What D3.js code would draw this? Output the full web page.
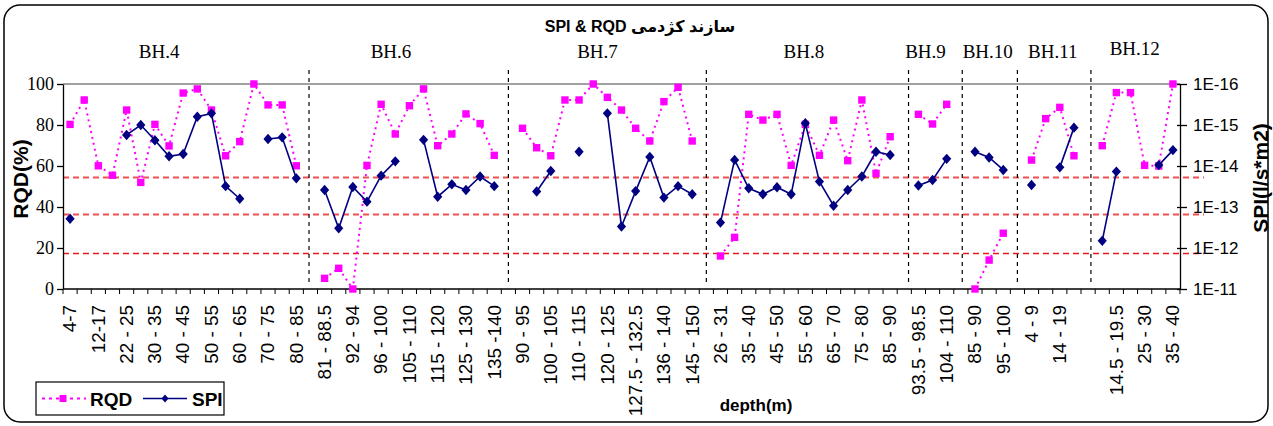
<!DOCTYPE html>
<html>
<head>
<meta charset="utf-8">
<script src="https://cdn.jsdelivr.net/npm/d3@7"></script>
<style>
  body { margin: 0; background: #fff; }
  svg { display: block; }
  .sans { font-family: 'Liberation Sans', Arial, 'DejaVu Sans', sans-serif; }
  .serif { font-family: 'Liberation Serif', 'Times New Roman', serif; }
</style>
</head>
<body>
<div id="chart"></div>
<script>
// Depth intervals along the x axis, boreholes separated by an empty slot (null).
// Excel only printed every second label, the hidden ones are left as ''.
var depthLabels = [
  '4-7', '', '12-17', '', '22 - 25', '', '30 - 35', '', '40 - 45', '', '50 - 55', '', '60 - 65', '', '70 - 75', '', '80 - 85', null,
  '81 - 88.5', '', '92 - 94', '', '96 - 100', '', '105 - 110', '', '115 - 120', '', '125 - 130', '', '135 -140', null,
  '90 - 95', '', '100 - 105', '', '110 - 115', '', '120 - 125', '', '127.5 - 132.5', '', '136 - 140', '', '145 - 150', null,
  '26 - 31', '', '35 - 40', '', '45 - 50', '', '55 - 60', '', '65 - 70', '', '75 - 80', '', '85 - 90', null,
  '93.5 - 98.5', '', '104 - 110', null,
  '85 - 90', '', '95 - 100', null,
  '4 - 9', '', '14 - 19', '', null,
  '', '14.5 - 19.5', '', '25 - 30', '', '35 - 40'
];

// RQD (%) for each slot
var rqd = [
  80.3, 92.2, 60.1, 55.5, 87.3, 52, 80.3, 69.8, 95.6, 97.6, 87.3, 65, 71.9, 100, 89.8, 89.8, 60.1, null,
  5.2, 10.1, 0, 60.3, 90.1, 75.6, 89.4, 97.6, 69.9, 75.6, 85.4, 80.7, 65.2, null,
  78.4, 68.9, 65, 92.2, 92.2, 100, 93.5, 87.3, 78.4, 72.2, 91.4, 98.4, 72.2, null,
  16.1, 25.2, 85.2, 82.4, 85.2, 60.3, 80.3, 65.2, 82.4, 62.6, 92.2, 56.4, 74.3, null,
  85.2, 80.5, 90.1, null,
  0, 14.1, 27.2, null,
  62.9, 83.1, 88.6, 65, null,
  69.9, 95.8, 95.8, 60.3, 60, 100
];

// SPI (l/s*m2) for each slot, null where not measured
var spi = [
  1.93e-13, null, null, null, 1.75e-15, 1.0e-15, 2.36e-15, 5.8e-15, 5.1e-15, 6.3e-16, 5.2e-16, 3.1e-14, 6.3e-14, null, 2.2e-15, 2.0e-15, 2.0e-14, null,
  3.85e-14, 3.3e-13, 3.25e-14, 7.4e-14, 1.72e-14, 7.7e-15, null, 2.3e-15, 5.6e-14, 2.8e-14, 3.85e-14, 1.8e-14, 3.1e-14, null,
  null, 4.2e-14, 1.32e-14, null, 4.5e-15, null, 5.2e-16, 3.0e-13, 4.1e-14, 6.0e-15, 5.9e-14, 3.1e-14, 4.9e-14, null,
  2.4e-13, 7.1e-15, 3.5e-14, 4.9e-14, 3.3e-14, 4.9e-14, 9.1e-16, 2.4e-14, 9.3e-14, 3.85e-14, 1.8e-14, 4.5e-15, 5.4e-15, null,
  3.0e-14, 2.2e-14, 6.7e-15, null,
  4.5e-15, 6.2e-15, 1.25e-14, null,
  2.9e-14, null, 1.08e-14, 1.16e-15, null,
  6.7e-13, 1.37e-14, null, null, 9.5e-15, 4.1e-15
];

var boreholes = ['BH.4', 'BH.6', 'BH.7', 'BH.8', 'BH.9', 'BH.10', 'BH.11', 'BH.12'];
var rqdTicks = [0, 20, 40, 60, 80, 100];
var spiTicks = [1e-16, 1e-15, 1e-14, 1e-13, 1e-12, 1e-11];
var spiLimits = [1.9e-14, 1.5e-13, 1.35e-12];

// layout (hand placed annotations, in slot units)
var bhLabelAt = [6.3, 22.7, 37.3, 51.9, 60.5, 64.9, 69.5, 75.3];
var dividerAt = [16.9, 31, 45, 59.3, 63.1, 67, 72.2];

var W = 1273, H = 426;
var plot = {left: 63, right: 1180, top: 84, bottom: 289};

var svg = d3.select('#chart').append('svg')
  .attr('width', W).attr('height', H);

// outer frame
svg.append('rect')
  .attr('x', 4).attr('y', 5).attr('width', 1264).attr('height', 417)
  .attr('rx', 16).attr('ry', 16)
  .attr('fill', '#fff').attr('stroke', '#000').attr('stroke-width', 1.5);

var x = d3.scaleBand().domain(d3.range(depthLabels.length)).range([plot.left, plot.right]).padding(0);
var bw = x.bandwidth();
var cx = function(i) { return plot.left + (i + 0.5) * bw; };
var yL = d3.scaleLinear().domain([0, 100]).range([plot.bottom, plot.top]);
var yR = d3.scaleLog().domain([1e-16, 1e-11]).range([plot.top, plot.bottom]);

// top line at 100
svg.append('line')
  .attr('x1', plot.left).attr('x2', plot.right)
  .attr('y1', yL(100)).attr('y2', yL(100))
  .attr('stroke', '#a0a0a0').attr('stroke-width', 2);

// threshold lines
svg.append('g').selectAll('line')
  .data(spiLimits)
  .enter().append('line')
  .attr('x1', plot.left).attr('x2', plot.right + 24)
  .attr('y1', function(d) { return Math.round(yR(d)) + 0.5; })
  .attr('y2', function(d) { return Math.round(yR(d)) + 0.5; })
  .attr('stroke', function(d, i) { return i < 2 ? '#f05050' : '#e51a1a'; })
  .attr('stroke-width', function(d, i) { return i < 2 ? 2 : 1.3; })
  .attr('stroke-dasharray', '6,4');

// borehole dividers
svg.append('g').selectAll('line')
  .data(dividerAt)
  .enter().append('line')
  .attr('x1', function(d) { return cx(d); }).attr('x2', function(d) { return cx(d); })
  .attr('y1', 70).attr('y2', 283)
  .attr('stroke', '#000').attr('stroke-width', 1.2)
  .attr('stroke-dasharray', '4,4');

// borehole names
svg.append('g').selectAll('text')
  .data(boreholes)
  .enter().append('text')
  .attr('class', 'serif')
  .attr('x', function(d, i) { return cx(bhLabelAt[i]); })
  .attr('y', function(d, i) { return i === 7 ? 55 : 58; })
  .attr('text-anchor', 'middle')
  .attr('font-size', 19)
  .text(function(d) { return d; });

// left axis
var gL = svg.append('g')
  .attr('transform', 'translate(' + plot.left + ',0)')
  .call(d3.axisLeft(yL).tickValues(rqdTicks).tickSize(6).tickSizeOuter(0).tickPadding(3));
gL.selectAll('text').attr('class', 'serif').attr('font-size', 18).attr('fill', '#000');
gL.selectAll('line, path').attr('stroke', '#000').attr('stroke-width', 1.3);

// right axis
var gR = svg.append('g')
  .attr('transform', 'translate(' + plot.right + ',0)')
  .call(d3.axisRight(yR).tickValues(spiTicks).tickSize(7).tickSizeOuter(0).tickPadding(6)
    .tickFormat(function(d) { return '1E' + Math.round(Math.log10(d)); }));
gR.selectAll('text').attr('class', 'sans').attr('font-size', 17).attr('fill', '#000');
gR.selectAll('line, path').attr('stroke', '#000').attr('stroke-width', 1.3);
gR.selectAll('.tick line').attr('x1', -3);

// bottom axis
var gB = svg.append('g');
gB.append('line')
  .attr('x1', plot.left).attr('x2', plot.right)
  .attr('y1', plot.bottom).attr('y2', plot.bottom)
  .attr('stroke', '#000').attr('stroke-width', 1.3);
gB.selectAll('line.tk')
  .data(d3.range(depthLabels.length + 1))
  .enter().append('line')
  .attr('class', 'tk')
  .attr('x1', function(i) { return plot.left + i * bw; })
  .attr('x2', function(i) { return plot.left + i * bw; })
  .attr('y1', plot.bottom).attr('y2', plot.bottom + 5)
  .attr('stroke', '#000').attr('stroke-width', 1);
gB.selectAll('text')
  .data(depthLabels.map(function(d, i) { return {label: d, i: i}; })
    .filter(function(d) { return d.label; }))
  .enter().append('text')
  .attr('class', 'sans')
  .attr('font-size', 18)
  .attr('text-anchor', 'end')
  .attr('dy', '0.35em')
  .attr('transform', function(d) { return 'translate(' + cx(d.i) + ',' + (plot.bottom + 16) + ') rotate(-90) scale(1.05,1)'; })
  .text(function(d) { return d.label; });

// RQD series
var rqdLine = d3.line()
  .defined(function(d) { return d != null; })
  .x(function(d, i) { return cx(i); })
  .y(function(d) { return yL(d); });
svg.append('path')
  .attr('d', rqdLine(rqd))
  .attr('fill', 'none')
  .attr('stroke', '#ff00ff').attr('stroke-width', 2)
  .attr('stroke-dasharray', '2,4');
svg.append('g').selectAll('rect')
  .data(rqd.map(function(d, i) { return {v: d, i: i}; }).filter(function(d) { return d.v != null; }))
  .enter().append('rect')
  .attr('x', function(d) { return cx(d.i) - 3.7; })
  .attr('y', function(d) { return yL(d.v) - 3.7; })
  .attr('width', 7.4).attr('height', 7.4)
  .attr('fill', '#ff00ff');

// SPI series
var diamond = 'M0,-5.2L4.6,0L0,5.2L-4.6,0Z';
var spiLine = d3.line()
  .defined(function(d) { return d != null; })
  .x(function(d, i) { return cx(i); })
  .y(function(d) { return yR(d); });
svg.append('path')
  .attr('d', spiLine(spi))
  .attr('fill', 'none')
  .attr('stroke', '#000080').attr('stroke-width', 1.6);
svg.append('g').selectAll('path')
  .data(spi.map(function(d, i) { return {v: d, i: i}; }).filter(function(d) { return d.v != null; }))
  .enter().append('path')
  .attr('d', diamond)
  .attr('transform', function(d) { return 'translate(' + cx(d.i) + ',' + yR(d.v) + ')'; })
  .attr('fill', '#000080');

// titles
svg.append('text')
  .attr('class', 'sans')
  .attr('x', 640).attr('y', 32)
  .attr('text-anchor', 'middle')
  .attr('font-size', 16).attr('font-weight', 'bold')
  .text('SPI & RQD سازند کژدمی');

svg.append('text')
  .attr('class', 'sans')
  .attr('transform', 'translate(28,179) rotate(-90)')
  .attr('text-anchor', 'middle')
  .attr('font-size', 21).attr('font-weight', 'bold')
  .text('RQD(%)');

svg.append('text')
  .attr('class', 'sans')
  .attr('transform', 'translate(1268,178) rotate(-90)')
  .attr('text-anchor', 'middle')
  .attr('font-size', 21).attr('font-weight', 'bold')
  .text('SPI(l/s*m2)');

svg.append('text')
  .attr('class', 'sans')
  .attr('x', 756).attr('y', 411)
  .attr('text-anchor', 'middle')
  .attr('font-size', 17).attr('font-weight', 'bold')
  .text('depth(m)');

// legend
var lg = svg.append('g').attr('transform', 'translate(36,382)');
lg.append('rect')
  .attr('width', 188).attr('height', 33)
  .attr('fill', '#fff').attr('stroke', '#000').attr('stroke-width', 1.2);
lg.append('line')
  .attr('x1', 6).attr('x2', 50).attr('y1', 16.5).attr('y2', 16.5)
  .attr('stroke', '#ff00ff').attr('stroke-width', 2).attr('stroke-dasharray', '3,4');
lg.append('rect')
  .attr('x', 23.5).attr('y', 13).attr('width', 7).attr('height', 7)
  .attr('fill', '#ff00ff');
lg.append('text')
  .attr('class', 'sans')
  .attr('x', 54).attr('y', 24)
  .attr('font-size', 19).attr('font-weight', 'bold')
  .text('RQD');
lg.append('line')
  .attr('x1', 107).attr('x2', 151).attr('y1', 16.5).attr('y2', 16.5)
  .attr('stroke', '#000080').attr('stroke-width', 1.5);
lg.append('path')
  .attr('d', 'M0,-4L3.5,0L0,4L-3.5,0Z')
  .attr('transform', 'translate(129,16.5)')
  .attr('fill', '#000080');
lg.append('text')
  .attr('class', 'sans')
  .attr('x', 156).attr('y', 24)
  .attr('font-size', 19).attr('font-weight', 'bold')
  .text('SPI');
</script>
</body>
</html>
